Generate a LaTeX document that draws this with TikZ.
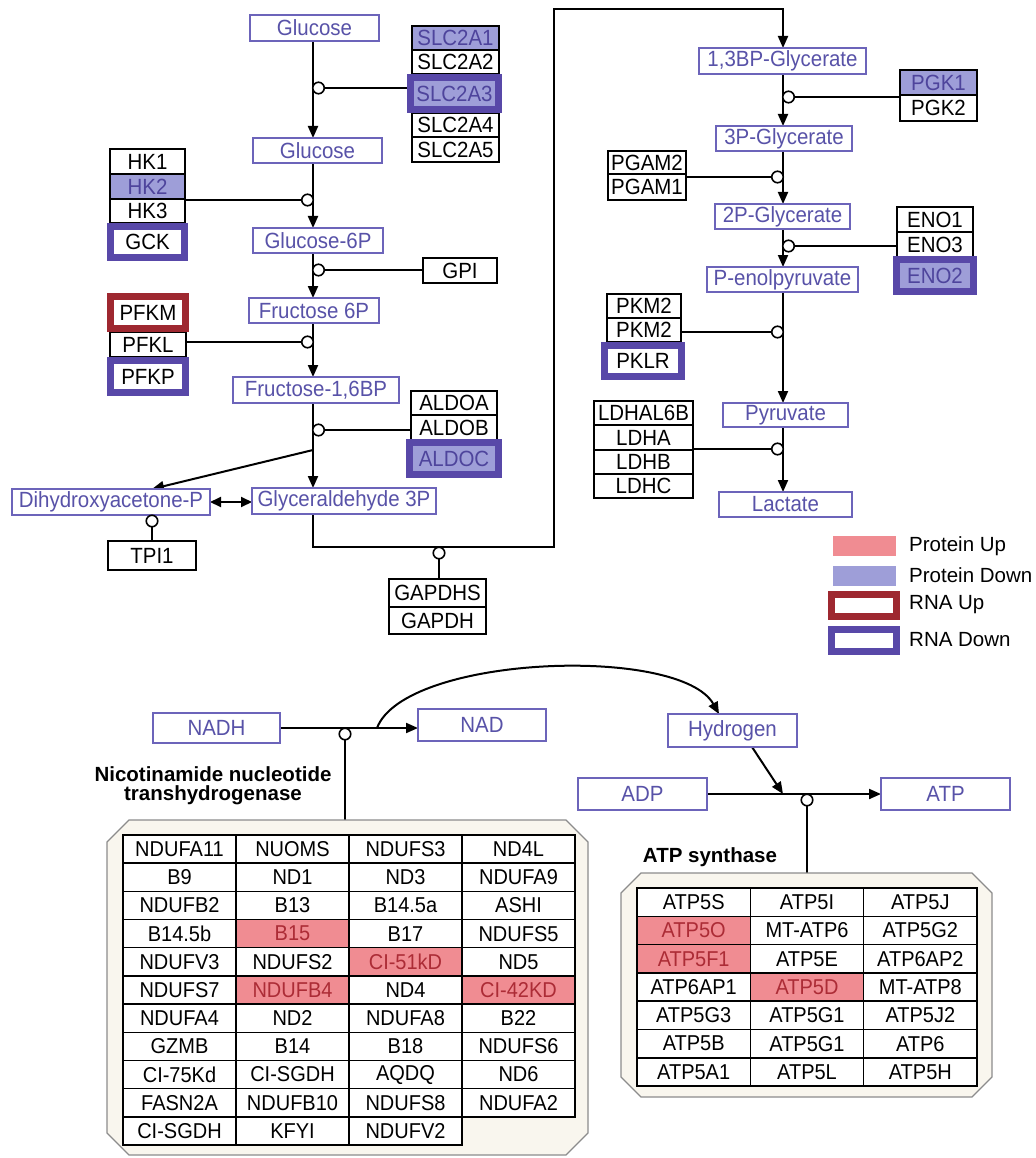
\documentclass[tikz,border=0pt]{standalone}
\usepackage{fontspec}
\setmainfont{Liberation Sans}
\newfontfamily\condfont[FakeStretch=0.93]{Liberation Sans}
\usetikzlibrary{arrows.meta}
\definecolor{metb}{RGB}{108,100,186}
\definecolor{mett}{RGB}{88,82,168}
\definecolor{pdown}{RGB}{158,158,216}
\definecolor{gdtext}{RGB}{78,68,156}
\definecolor{rnadn}{RGB}{88,72,168}
\definecolor{rnaup}{RGB}{158,40,48}
\definecolor{pup}{RGB}{240,140,146}
\definecolor{puptext}{RGB}{172,44,54}
\definecolor{octfill}{RGB}{249,246,238}
\definecolor{octdraw}{RGB}{140,140,140}
\colorlet{cw}{white}\colorlet{cp}{pup}
\colorlet{tw}{black}\colorlet{tp}{puptext}
\newcommand\dgfont{\condfont\fontsize{22}{24}\selectfont}
\newcommand\tbfont{\condfont\fontsize{21.5}{23}\selectfont}
\newcommand\lgfont{\fontsize{20.5}{22}\selectfont}
\newcommand\bx[7]{\node[#1,minimum width={(#5)-(#3)},minimum height={(#6)-(#4)}] (#2) at ({((#3)+(#5))/2},{((#4)+(#6))/2}) {#7};}
\newcommand\octpath[6][]{\path[oct,#1] ({#2+#6},#3) -- ({#4-#6},#3) -- (#4,{#3+#6}) -- (#4,{#5-#6}) -- ({#4-#6},#5) -- ({#2+#6},#5) -- (#2,{#5-#6}) -- (#2,{#3+#6}) -- cycle;}
\pgfdeclarelayer{bg}
\pgfsetlayers{bg,main}
\tikzset{
  base/.style={rectangle, inner sep=0pt, outer sep=0pt, font=\dgfont, line width=1.5pt},
  met/.style={base, draw=metb, text=mett, fill=white},
  gene/.style={base, draw=black, fill=white, text=black},
  gdown/.style={gene, fill=pdown, text=gdtext},
  rdown/.style={base, draw=rnadn, line width=7pt, fill=white, text=black},
  rdownp/.style={rdown, fill=pdown, text=gdtext},
  rup/.style={base, draw=rnaup, line width=7pt, fill=white, text=black},
  circ/.style={circle, draw=black, fill=white, line width=1.6pt, minimum size=11.5pt, inner sep=0pt, outer sep=0pt},
  ln/.style={draw=black, line width=2pt},
  arr/.style={ln, -{Triangle[length=12pt,width=10pt]}},
  arr2/.style={ln, {Triangle[length=11pt,width=10pt]}-{Triangle[length=11pt,width=10pt]}},
  tcell/.style={rectangle, draw=black, line width=1.5pt, inner sep=0pt, outer sep=0pt, font=\tbfont},
  oct/.style={draw=octdraw, fill=octfill, line width=1.3pt},
  lbl/.style={font=\bfseries\fontsize{20.5}{19}\selectfont, align=center, inner sep=0pt},
  lgtext/.style={font=\lgfont, anchor=west, inner sep=0pt},
}
\begin{document}
\begin{tikzpicture}[x=1pt,y=-1pt,line join=miter]
\useasboundingbox (0,0) rectangle (1035,1158);
% ---------- glycolysis metabolites (left) ----------
\bx{met}{glc1}{250}{15}{379}{41}{Glucose}
\bx{met}{glc2}{253}{138}{382}{163}{Glucose}
\bx{met}{g6p}{253}{228}{383}{253}{Glucose-6P}
\bx{met}{f6p}{249}{298}{379}{323}{Fructose 6P}
\bx{met}{f16}{233}{377}{399}{403}{Fructose-1,6BP}
\bx{met}{dhap}{12}{489}{210}{515}{Dihydroxyacetone-P}
\bx{met}{g3p}{252}{488}{436}{514}{Glyceraldehyde 3P}
% enzymes left
\bx{gdown}{slc1}{412}{26}{499}{50}{SLC2A1}
\bx{gene}{slc2}{412}{50}{499}{74}{SLC2A2}
\bx{gene}{slc4}{412}{113}{499}{137}{SLC2A4}
\bx{gene}{slc5}{412}{137}{499}{162}{SLC2A5}
\bx{rdownp}{slc3}{410.5}{77.5}{498.5}{109.5}{SLC2A3}
\bx{gene}{hk1}{110}{149}{185}{174}{HK1}
\bx{gdown}{hk2}{110}{174}{185}{199}{HK2}
\bx{gene}{hk3}{110}{199}{185}{223}{HK3}
\bx{rdown}{gck}{110.5}{226.5}{184.5}{257.5}{GCK}
\bx{gene}{gpi}{423}{258}{497}{283}{GPI}
\bx{gene}{pfkl}{110}{332}{186}{357}{PFKL}
\bx{rup}{pfkm}{110.5}{296.5}{185.5}{328.5}{PFKM}
\bx{rdown}{pfkp}{110.5}{360.5}{185.5}{392.5}{PFKP}
\bx{gene}{aldoa}{411}{391}{497}{415}{ALDOA}
\bx{gene}{aldob}{411}{415}{497}{440}{ALDOB}
\bx{rdownp}{aldoc}{409.5}{442.5}{498.5}{474.5}{ALDOC}
\bx{gene}{tpi}{108}{541}{196}{570}{TPI1}
\bx{gene}{gapdhs}{389}{579}{486}{607}{GAPDHS}
\bx{gene}{gapdh}{389}{607}{486}{634}{GAPDH}
% ---------- right column ----------
\bx{met}{bpg}{699}{48}{866}{74}{1,3BP-Glycerate}
\bx{met}{pg3}{716}{126}{852}{151}{3P-Glycerate}
\bx{met}{pg2}{715}{204}{850}{229}{2P-Glycerate}
\bx{met}{pep}{707}{267}{858}{292}{P-enolpyruvate}
\bx{met}{pyr}{723}{403}{848}{427}{Pyruvate}
\bx{met}{lac}{719}{492}{852}{517}{Lactate}
\bx{gdown}{pgk1}{900}{70}{977}{95}{PGK1}
\bx{gene}{pgk2}{900}{95}{977}{121}{PGK2}
\bx{gene}{pgam2}{608}{151}{686}{174}{PGAM2}
\bx{gene}{pgam1}{608}{174}{686}{200}{PGAM1}
\bx{gene}{eno1}{897}{207}{973}{232}{ENO1}
\bx{gene}{eno3}{897}{232}{973}{257}{ENO3}
\bx{rdownp}{eno2}{896.5}{259.5}{973.5}{291.5}{ENO2}
\bx{gene}{pkma}{607}{294}{681}{318}{PKM2}
\bx{gene}{pkmb}{607}{318}{681}{342}{PKM2}
\bx{rdown}{pklr}{604.5}{345.5}{681.5}{376.5}{PKLR}
\bx{gene}{ldh6}{594}{401}{693}{425}{LDHAL6B}
\bx{gene}{ldha}{594}{425}{693}{450}{LDHA}
\bx{gene}{ldhb}{594}{450}{693}{474}{LDHB}
\bx{gene}{ldhc}{594}{474}{693}{498}{LDHC}
% ---------- circles ----------
\node[circ] (cslc) at (318.5,88) {};
\node[circ] (chk) at (307.5,200) {};
\node[circ] (cgpi) at (318.5,270) {};
\node[circ] (cpfk) at (307.5,342) {};
\node[circ] (cald) at (318.5,430) {};
\node[circ] (ctpi) at (152,521) {};
\node[circ] (cgap) at (439,553) {};
\node[circ] (cpgk) at (788.5,97) {};
\node[circ] (cpgam) at (777.5,177) {};
\node[circ] (ceno) at (788.5,246) {};
\node[circ] (cpk) at (777.5,332) {};
\node[circ] (cldh) at (777.5,449) {};
% ---------- legend ----------
\bx{base,fill=pup}{lgpu}{833}{536}{896}{556}{}
\bx{base,fill=pdown}{lgpd}{833}{566}{896}{586}{}
\bx{rup}{lgru}{831.5}{594.5}{896.5}{616.5}{}
\bx{rdown}{lgrd}{831.5}{629.5}{896.5}{651.5}{}
\node[lgtext] (tpu) at (909,546) {Protein Up};
\node[lgtext] (tpd) at (909,575) {Protein Down};
\node[lgtext] (tru) at (909,605) {RNA Up};
\node[lgtext] (trd) at (909,640) {RNA Down};
% ---------- bottom: respiration ----------
\bx{met}{nadh}{153}{713}{280}{743}{NADH}
\bx{met}{nad}{418}{709}{546}{741}{NAD}
\bx{met}{hyd}{668}{714}{797}{747}{Hydrogen}
\bx{met}{adp}{578}{778}{707}{810}{ADP}
\bx{met}{atp}{881}{778}{1010}{810}{ATP}
\node[circ] (cnad) at (345,734) {};
\node[circ] (catp) at (807,800) {};
\octpath{107}{820}{588}{1155}{22}
\octpath{621}{873}{992}{1097}{20}
\coordinate (ndtop) at (345,820);
\coordinate (attop) at (807,873);
\node[lbl] (ntlab) at (213,786) {Nicotinamide nucleotide\\transhydrogenase};
\node[lbl] (aslab) at (710,857) {ATP synthase};
% NDUF table
\foreach \rowlist [count=\r from 0] in {
 {NDUFA11/w,NUOMS/w,NDUFS3/w,ND4L/w},
 {B9/w,ND1/w,ND3/w,NDUFA9/w},
 {NDUFB2/w,B13/w,B14.5a/w,ASHI/w},
 {B14.5b/w,B15/p,B17/w,NDUFS5/w},
 {NDUFV3/w,NDUFS2/w,CI-51kD/p,ND5/w},
 {NDUFS7/w,NDUFB4/p,ND4/w,CI-42KD/p},
 {NDUFA4/w,ND2/w,NDUFA8/w,B22/w},
 {GZMB/w,B14/w,B18/w,NDUFS6/w},
 {CI-75Kd/w,CI-SGDH/w,AQDQ/w,ND6/w},
 {FASN2A/w,NDUFB10/w,NDUFS8/w,NDUFA2/w},
 {CI-SGDH/w,KFYI/w,NDUFV2/w}}{
  \foreach \t/\f [count=\c from 0] in \rowlist {
    \node[tcell, fill=c\f, text=t\f, minimum width=113pt, minimum height=28.18pt] (nd-\r-\c) at ({123+113*\c+56.5},{835+28.18*\r+14.09}) {\t};
  }
}
% ATP table
\foreach \rowlist [count=\r from 0] in {
 {ATP5S/w,ATP5I/w,ATP5J/w},
 {ATP5O/p,MT-ATP6/w,ATP5G2/w},
 {ATP5F1/p,ATP5E/w,ATP6AP2/w},
 {ATP6AP1/w,ATP5D/p,MT-ATP8/w},
 {ATP5G3/w,ATP5G1/w,ATP5J2/w},
 {ATP5B/w,ATP5G1/w,ATP6/w},
 {ATP5A1/w,ATP5L/w,ATP5H/w}}{
  \foreach \t/\f [count=\c from 0] in \rowlist {
    \node[tcell, fill=c\f, text=t\f, minimum width=113.33pt, minimum height=28.3pt] (at-\r-\c) at ({637+113.33*\c+56.67},{888+28.3*\r+14.15}) {\t};
  }
}
% ---------- connectors ----------
\begin{pgfonlayer}{bg}
\coordinate (lx) at (313,0);
\coordinate (rx) at (783,0);
\draw[arr] (glc1.south -| lx) -- (glc2.north -| lx);
\draw[arr] (glc2.south -| lx) -- (g6p.north -| lx);
\draw[arr] (g6p.south -| lx) -- (f6p.north -| lx);
\draw[arr] (f6p.south -| lx) -- (f16.north -| lx);
\draw[arr] (f16.south -| lx) -- (g3p.north -| lx);
\coordinate (dsp) at (313,450);
\coordinate (dx) at (152,0);
\draw[arr] (dsp) -- (dhap.north -| dx);
\draw[arr2] (dhap.east) -- (dhap.east -| g3p.west);
\coordinate (lp1) at (313,547);
\coordinate (lp2) at (554,547);
\coordinate (lp3) at (554,9);
\coordinate (lp4) at (783,9);
\draw[arr] (g3p.south -| lx) -- (lp1) -- (lp2) -- (lp3) -- (lp4) -- (bpg.north -| rx);
\draw[arr] (bpg.south -| rx) -- (pg3.north -| rx);
\draw[arr] (pg3.south -| rx) -- (pg2.north -| rx);
\draw[arr] (pg2.south -| rx) -- (pep.north -| rx);
\draw[arr] (pep.south -| rx) -- (pyr.north -| rx);
\draw[arr] (pyr.south -| rx) -- (lac.north -| rx);
\draw[ln] (cslc) -- (cslc -| slc3.west);
\draw[ln] (chk) -- (chk -| hk2.east);
\draw[ln] (cgpi) -- (cgpi -| gpi.west);
\draw[ln] (cpfk) -- (cpfk -| pfkl.east);
\draw[ln] (cald) -- (cald -| aldob.west);
\draw[ln] (ctpi) -- (ctpi |- tpi.north);
\draw[ln] (cgap) -- (cgap |- gapdhs.north);
\draw[ln] (cpgk) -- (cpgk -| pgk1.west);
\draw[ln] (cpgam) -- (cpgam -| pgam1.east);
\draw[ln] (ceno) -- (ceno -| eno3.west);
\draw[ln] (cpk) -- (cpk -| pkmb.east);
\draw[ln] (cldh) -- (cldh -| ldha.east);
% bottom
\draw[arr] (nadh.east) -- (nadh.east -| nad.west);
\coordinate (cst) at (377,728);
\coordinate (cend) at (719,714);
\draw[arr] (cst) .. controls (405,655) and (680,645) .. (cend);
\coordinate (hx) at (752,0);
\coordinate (atpj) at (783,794);
\draw[arr] (hyd.south -| hx) -- (atpj);
\draw[arr] (adp.east) -- (atp.west);
\draw[ln] (cnad) -- (ndtop);
\draw[ln] (catp) -- (attop);
\end{pgfonlayer}
\end{tikzpicture}
\end{document}
